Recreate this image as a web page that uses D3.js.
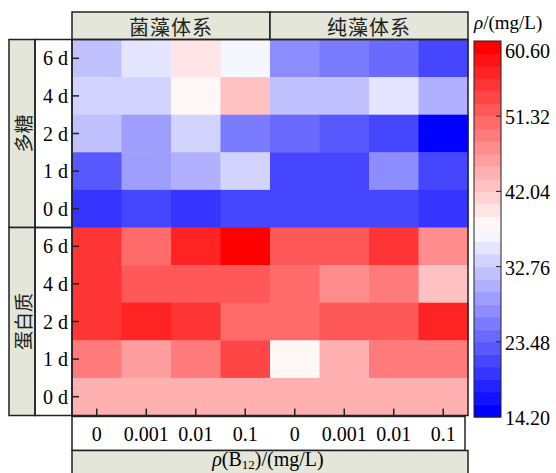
<!DOCTYPE html>
<html>
<head>
<meta charset="utf-8">
<script src="https://cdn.jsdelivr.net/npm/d3@7"></script>
<style>
  body { margin: 0; background: #fff; }
</style>
</head>
<body>
<div id="chart"></div>
<script>
// data
var systems = ["菌藻体系", "纯藻体系"];
var concs = ["0", "0.001", "0.01", "0.1"];
var substrates = ["多糖", "蛋白质"];
var days = ["6 d", "4 d", "2 d", "1 d", "0 d"];

// rows = days (6d..0d), cols = 菌藻 0..0.1 then 纯藻 0..0.1
var polyValues = [
  [32.0, 35.1, 39.7, 36.6, 27.4, 25.8, 24.3, 21.2],
  [33.5, 33.5, 38.2, 42.8, 32.0, 32.0, 35.1, 30.4],
  [32.0, 28.9, 33.5, 25.8, 24.3, 22.7, 21.2, 15.0],
  [22.7, 28.9, 30.4, 33.5, 21.2, 21.2, 27.4, 21.2],
  [19.6, 21.2, 19.6, 21.2, 21.2, 21.2, 21.2, 19.6]
];
var proteinValues = [
  [55.2, 50.5, 56.7, 59.8, 52.1, 52.1, 55.2, 47.5],
  [55.2, 52.1, 52.1, 52.1, 50.5, 47.5, 49.0, 42.8],
  [55.2, 56.7, 55.2, 50.5, 50.5, 52.1, 52.1, 56.7],
  [49.0, 45.9, 49.0, 53.6, 38.2, 44.4, 49.0, 49.0],
  [44.4, 44.4, 44.4, 44.4, 44.4, 44.4, 44.4, 44.4]
];
var colorTicks = [14.20, 23.48, 32.76, 42.04, 51.32, 60.60];
var nLevels = 30;

var svgWidth = 556;
var svgHeight = 473;
var serif = "'Liberation Serif', 'Times New Roman', 'DejaVu Serif', serif";
var cjk = "'Noto Sans CJK SC', 'Noto Sans', sans-serif";

var svg = d3.select("#chart")
  .append("svg")
  .attr("width", svgWidth)
  .attr("height", svgHeight)
  .attr("font-family", serif);

var plot = { left: 72, right: 468, top: 39.5, bottom: 415.5 };
var stroke = "#222";
var stripFill = "#e3e6d8";

// build cell table
var cols = [];
systems.forEach(s => concs.forEach(c => cols.push(s + "|" + c)));
var rows = [];
substrates.forEach(s => days.forEach(d => rows.push(s + "|" + d)));

var cells = [];
[polyValues, proteinValues].forEach(function(block, bi) {
  block.forEach(function(r, ri) {
    r.forEach(function(v, ci) {
      cells.push({ row: rows[bi * days.length + ri], col: cols[ci], value: v });
    });
  });
});

var x = d3.scaleBand().domain(cols).range([plot.left, plot.right]);
var y = d3.scaleBand().domain(rows).range([plot.top, plot.bottom]);

// discrete blue-white-red palette, end levels are pure blue / pure red
var lo = colorTicks[0], hi = colorTicks[colorTicks.length - 1];
var interp = d3.piecewise(d3.interpolateRgb, ["#0000ff", "#ffffff", "#ff0000"]);
var levelColors = d3.range(nLevels).map(i => interp(i / (nLevels - 1)));
var color = d3.scaleQuantize().domain([lo, hi]).range(levelColors);

// heatmap cells
svg.append("g")
  .selectAll("rect")
  .data(cells)
  .enter()
  .append("rect")
  .attr("x", d => x(d.col))
  .attr("y", d => y(d.row))
  .attr("width", x.bandwidth() + 0.5)
  .attr("height", y.bandwidth() + 0.5)
  .attr("fill", d => color(d.value));

// top header strips
var groupW = x.bandwidth() * concs.length;
systems.forEach(function(s, i) {
  var x0 = x(s + "|" + concs[0]);
  svg.append("rect")
    .attr("x", x0).attr("y", 12)
    .attr("width", groupW).attr("height", plot.top - 12)
    .attr("fill", stripFill).attr("stroke", stroke).attr("stroke-width", 1.5);
  svg.append("text")
    .attr("font-family", cjk)
    .attr("x", x0 + groupW / 2).attr("y", 26)
    .attr("text-anchor", "middle").attr("dominant-baseline", "central")
    .attr("font-size", 20)
    .attr("letter-spacing", 1)
    .attr("fill", "#222")
    .text(s);
});

// left strips + row label boxes
var groupH = y.bandwidth() * days.length;
substrates.forEach(function(s, i) {
  var y0 = y(s + "|" + days[0]);
  svg.append("rect")
    .attr("x", 9).attr("y", y0)
    .attr("width", 26).attr("height", groupH)
    .attr("fill", stripFill).attr("stroke", stroke).attr("stroke-width", 1.5);
  svg.append("rect")
    .attr("x", 35).attr("y", y0)
    .attr("width", plot.left - 35).attr("height", groupH)
    .attr("fill", "none").attr("stroke", stroke).attr("stroke-width", 1.5);
  svg.append("text")
    .attr("font-family", cjk)
    .attr("transform", `translate(22, ${y0 + groupH / 2}) rotate(-90)`)
    .attr("text-anchor", "middle").attr("dominant-baseline", "central")
    .attr("font-size", 19)
    .attr("fill", "#222")
    .text(s);
});

// row labels and ticks
svg.append("g")
  .selectAll("text")
  .data(rows)
  .enter()
  .append("text")
  .attr("x", 68)
  .attr("y", d => y(d) + y.bandwidth() / 2)
  .attr("text-anchor", "end")
  .attr("dominant-baseline", "central")
  .attr("font-size", 20)
  .text(d => d.split("|")[1]);

svg.append("g")
  .selectAll("line")
  .data(rows)
  .enter()
  .append("line")
  .attr("x1", plot.left).attr("x2", plot.left + 7)
  .attr("y1", d => y(d) + y.bandwidth() / 2)
  .attr("y2", d => y(d) + y.bandwidth() / 2)
  .attr("stroke", stroke).attr("stroke-width", 1.5);

// bottom ticks
svg.append("g")
  .selectAll("line")
  .data(cols)
  .enter()
  .append("line")
  .attr("x1", d => x(d) + x.bandwidth() / 2)
  .attr("x2", d => x(d) + x.bandwidth() / 2)
  .attr("y1", plot.bottom).attr("y2", plot.bottom - 7)
  .attr("stroke", stroke).attr("stroke-width", 1.5);

// plot frame
svg.append("rect")
  .attr("x", plot.left).attr("y", plot.top)
  .attr("width", plot.right - plot.left).attr("height", plot.bottom - plot.top)
  .attr("fill", "none").attr("stroke", stroke).attr("stroke-width", 1.5);

// bottom tick label box
svg.append("rect")
  .attr("x", plot.left).attr("y", plot.bottom + 1)
  .attr("width", plot.right - plot.left - 3).attr("height", 34)
  .attr("fill", "#fff").attr("stroke", stroke).attr("stroke-width", 1.5);

svg.append("g")
  .selectAll("text")
  .data(cols)
  .enter()
  .append("text")
  .attr("x", d => x(d) + x.bandwidth() / 2)
  .attr("y", plot.bottom + 18)
  .attr("text-anchor", "middle")
  .attr("dominant-baseline", "central")
  .attr("font-size", 20)
  .text(d => d.split("|")[1]);

// bottom axis title strip
svg.append("rect")
  .attr("x", plot.left).attr("y", plot.bottom + 35)
  .attr("width", plot.right - plot.left).attr("height", 40)
  .attr("fill", stripFill).attr("stroke", stroke).attr("stroke-width", 1.5);

var xt = svg.append("text")
  .attr("x", (plot.left + plot.right) / 2 - 2)
  .attr("y", 466)
  .attr("text-anchor", "middle")
  .attr("font-size", 20);
xt.append("tspan").attr("font-style", "italic").text("ρ");
xt.append("tspan").text("(B");
xt.append("tspan").attr("font-size", 13).attr("dy", 3).text("12");
xt.append("tspan").attr("dy", -3).text(")/(mg/L)");

// colorbar
var cb = { x: 474, w: 27, top: 41, bottom: 417 };
var cScale = d3.scaleLinear().domain([lo, hi]).range([cb.bottom, cb.top]);
var step = (hi - lo) / nLevels;

svg.append("g")
  .selectAll("rect")
  .data(levelColors)
  .enter()
  .append("rect")
  .attr("x", cb.x)
  .attr("y", (d, i) => cScale(lo + (i + 1) * step))
  .attr("width", cb.w)
  .attr("height", (d, i) => cScale(lo + i * step) - cScale(lo + (i + 1) * step) + 0.5)
  .attr("fill", d => d);

svg.append("rect")
  .attr("x", cb.x).attr("y", cb.top)
  .attr("width", cb.w).attr("height", cb.bottom - cb.top)
  .attr("fill", "none").attr("stroke", stroke).attr("stroke-width", 1);

svg.append("g")
  .selectAll("line")
  .data(colorTicks.slice(1, -1))
  .enter()
  .append("line")
  .attr("x1", cb.x + cb.w - 5).attr("x2", cb.x + cb.w)
  .attr("y1", d => cScale(d)).attr("y2", d => cScale(d))
  .attr("stroke", stroke).attr("stroke-width", 1);

svg.append("g")
  .selectAll("text")
  .data(colorTicks)
  .enter()
  .append("text")
  .attr("x", 505)
  .attr("y", (d, i) => i === colorTicks.length - 1 ? cScale(d) + 10 : cScale(d) + 1)
  .attr("dominant-baseline", "central")
  .attr("font-size", 20)
  .text(d => d.toFixed(2));

var ct = svg.append("text")
  .attr("x", 474).attr("y", 29)
  .attr("font-size", 19);
ct.append("tspan").attr("font-style", "italic").text("ρ");
ct.append("tspan").text("/(mg/L)");
</script>
</body>
</html>
